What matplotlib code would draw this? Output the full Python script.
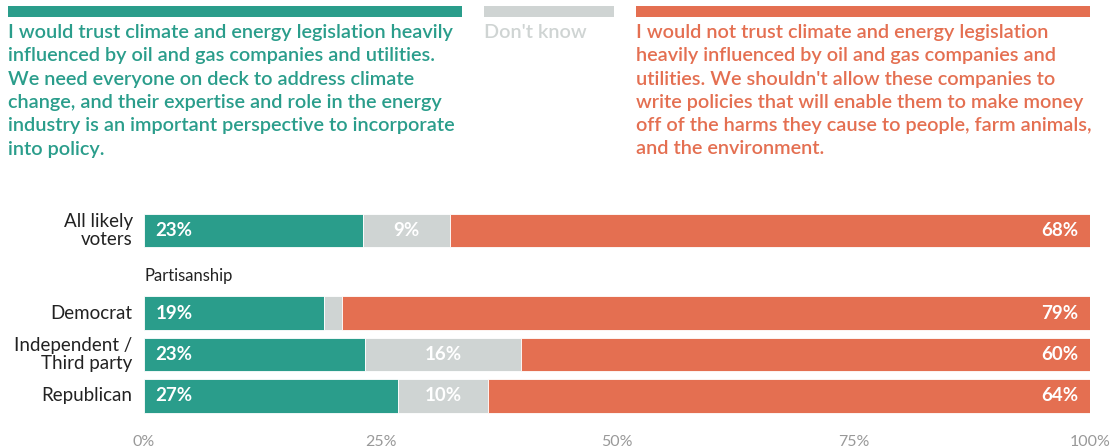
import matplotlib.pyplot as plt
from matplotlib.patches import Rectangle

# Data
groups = ['All likely\nvoters', 'Democrat', 'Independent /\nThird party', 'Republican']
trust = [23.1, 19.0, 23.4, 26.9]
dont_know = [9.2, 1.9, 16.4, 9.5]
not_trust = [67.7, 79.1, 60.2, 63.6]
trust_labels = ['23%', '19%', '23%', '27%']
dk_labels = ['9%', '', '16%', '10%']
not_trust_labels = ['68%', '79%', '60%', '64%']
row_pos = [0, 2, 3, 4]
ticks = [0, 25, 50, 75, 100]
tick_labels = ['0%', '25%', '50%', '75%', '100%']

trust_text = ("I would trust climate and energy legislation heavily\n"
              "influenced by oil and gas companies and utilities.\n"
              "We need everyone on deck to address climate\n"
              "change, and their expertise and role in the energy\n"
              "industry is an important perspective to incorporate\n"
              "into policy.")
not_trust_text = ("I would not trust climate and energy legislation\n"
                  "heavily influenced by oil and gas companies and\n"
                  "utilities. We shouldn't allow these companies to\n"
                  "write policies that will enable them to make money\n"
                  "off of the harms they cause to people, farm animals,\n"
                  "and the environment.")

green = '#2a9d8b'
grey = '#cfd4d3'
orange = '#e46f51'

plt.rcParams['font.family'] = ['Lato', 'DejaVu Sans']

W, H = 1117, 448
fig = plt.figure(figsize=(W / 100, H / 100), dpi=100)


def fx(x):
    return x / W


def fy(y):
    return 1 - y / H


# Header legend blocks
for x0, x1, c in [(8, 462, green), (484, 614, grey), (636, 1090, orange)]:
    fig.add_artist(Rectangle((fx(x0), fy(17)), fx(x1 - x0), 11 / H,
                             color=c, transform=fig.transFigure, lw=0))

fig.text(fx(8), fy(24), trust_text, color=green, fontsize=14.3, weight='semibold',
         va='top', ha='left', linespacing=1.45)
fig.text(fx(484), fy(24), "Don't know", color=grey, fontsize=14.3, weight='semibold',
         va='top', ha='left')
fig.text(fx(636), fy(24), not_trust_text, color=orange, fontsize=14.3, weight='semibold',
         va='top', ha='left', linespacing=1.45)

# Bars
ax = fig.add_axes([fx(144), fy(420), fx(946), 220 / H])
ax.barh(row_pos, trust, height=0.81, color=green, edgecolor='white', linewidth=0.6)
ax.barh(row_pos, dont_know, left=trust, height=0.81, color=grey, edgecolor='white', linewidth=0.6)
left2 = [a + b for a, b in zip(trust, dont_know)]
ax.barh(row_pos, not_trust, left=left2, height=0.81, color=orange, edgecolor='white', linewidth=0.6)

for i, y in enumerate(row_pos):
    ax.text(1.2, y, trust_labels[i], color='white', fontsize=13.5, weight='bold',
            va='center', ha='left')
    ax.text(trust[i] + dont_know[i] / 2, y, dk_labels[i], color='white', fontsize=13.5,
            weight='bold', va='center', ha='center')
    ax.text(100 - 1.2, y, not_trust_labels[i], color='white', fontsize=13.5, weight='bold',
            va='center', ha='right')
    ax.text(-1.2, y, groups[i], color='#222222', fontsize=13.5, va='center', ha='right',
            linespacing=1.05)

ax.text(0, 1.1, 'Partisanship', color='#222222', fontsize=12, va='center', ha='left')

ax.set_xlim(0, 100)
ax.set_ylim(4.585, -0.733)
ax.set_xticks(ticks)
ax.set_xticklabels(tick_labels, color='#999999', fontsize=11.5)
ax.tick_params(axis='x', length=0, pad=11)
ax.set_yticks([])
for s in ax.spines.values():
    s.set_visible(False)

fig.savefig('out.png', dpi=100)
